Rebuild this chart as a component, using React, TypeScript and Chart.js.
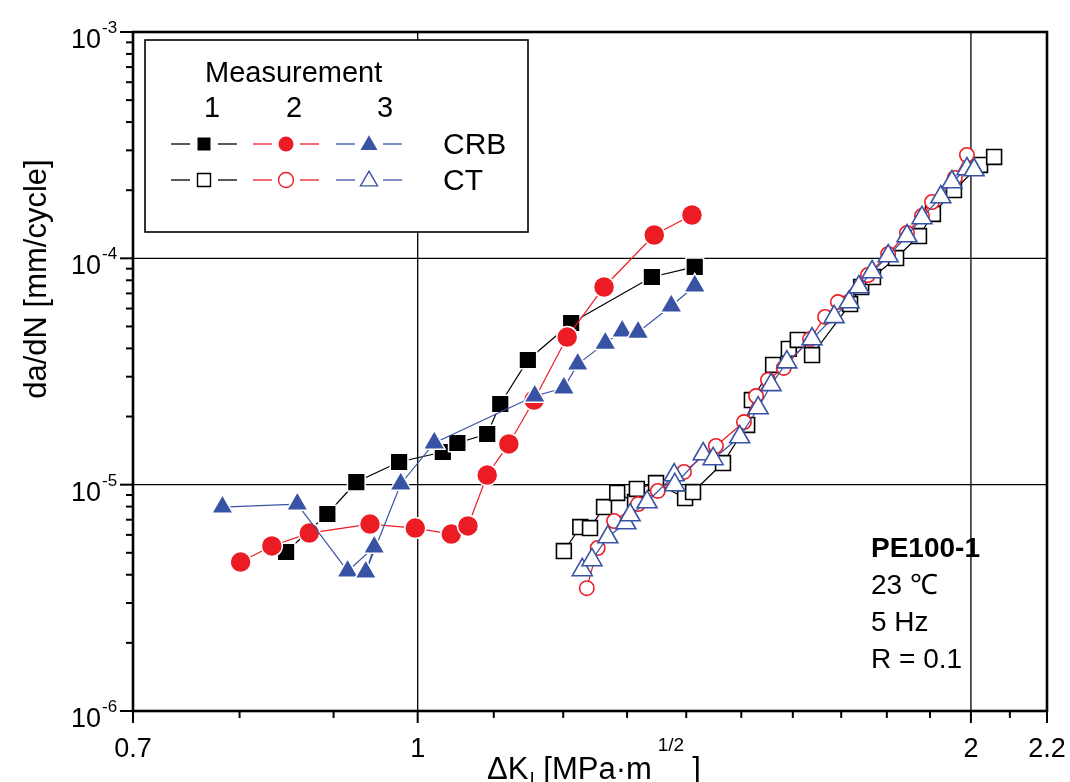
import React, { useEffect, useRef } from 'react';
import { Chart, registerables } from 'chart.js';

Chart.register(...registerables);

const FONT = '"Liberation Sans", Arial, Helvetica, sans-serif';

// ---------- axes ----------
const X_MIN = 0.7;
const X_MAX = 2.2;
const Y_MIN = 1e-6;
const Y_MAX = 1e-3;
const X_TICKS = [0.7, 0.8, 0.9, 1, 1.1, 1.2, 1.3, 1.4, 1.5, 1.6, 1.7, 1.8, 1.9, 2, 2.1, 2.2];
const X_LABELS = [0.7, 1, 2, 2.2];
const Y_EXPONENTS = [-6, -5, -4, -3];
const X_GRID = [1, 2];
const Y_GRID = [1e-5, 1e-4];

// ---------- data: CRB (filled markers) ----------
const CRB1_K = [0.848, 0.893, 0.926, 0.977, 1.032, 1.051, 1.091, 1.109, 1.148, 1.212, 1.341, 1.415];
const CRB1_RATE = [5.04e-6, 7.42e-6, 1.027e-5, 1.259e-5, 1.394e-5, 1.528e-5, 1.674e-5, 2.272e-5, 3.554e-5, 5.18e-5, 8.27e-5, 9.16e-5];

const CRB2_K = [0.801, 0.833, 0.873, 0.942, 0.997, 1.043, 1.065, 1.091, 1.121, 1.157, 1.206, 1.263, 1.345, 1.41];
const CRB2_RATE = [4.55e-6, 5.36e-6, 6.11e-6, 6.7e-6, 6.43e-6, 6.05e-6, 6.57e-6, 1.103e-5, 1.513e-5, 2.366e-5, 4.49e-5, 7.47e-5, 1.268e-4, 1.554e-4];

const CRB3_K = [0.783, 0.86, 0.916, 0.947, 0.937, 0.979, 1.021, 1.158, 1.201, 1.222, 1.265, 1.292, 1.318, 1.374, 1.415];
const CRB3_RATE = [7.96e-6, 8.21e-6, 4.15e-6, 5.3e-6, 4.11e-6, 1.007e-5, 1.528e-5, 2.464e-5, 2.674e-5, 3.41e-5, 4.22e-5, 4.77e-5, 4.72e-5, 6.16e-5, 7.55e-5];

// ---------- data: CT (open markers) ----------
const CT1_K = [1.201, 1.226, 1.241, 1.263, 1.284, 1.313, 1.316, 1.348, 1.398, 1.412, 1.466, 1.511, 1.52, 1.561, 1.592, 1.61, 1.639, 1.719, 1.743, 1.769, 1.821, 1.874, 1.907, 1.958, 2.023, 2.059];
const CT1_RATE = [5.09e-6, 6.5e-6, 6.43e-6, 7.96e-6, 9.19e-6, 8.38e-6, 9.57e-6, 1.017e-5, 8.73e-6, 9.28e-6, 1.246e-5, 1.835e-5, 2.366e-5, 3.38e-5, 3.98e-5, 4.36e-5, 3.74e-5, 6.28e-5, 7.47e-5, 8.27e-5, 1.003e-4, 1.255e-4, 1.57e-4, 2.004e-4, 2.585e-4, 2.804e-4];

const CT2_K = [1.236, 1.253, 1.279, 1.318, 1.351, 1.396, 1.453, 1.505, 1.528, 1.551, 1.582, 1.635, 1.666, 1.693, 1.758, 1.803, 1.846, 1.881, 1.905, 1.96, 1.99];
const CT2_RATE = [3.49e-6, 5.25e-6, 6.91e-6, 8.21e-6, 9.38e-6, 1.138e-5, 1.482e-5, 1.891e-5, 2.464e-5, 2.9e-5, 3.28e-5, 4.4e-5, 5.51e-5, 6.41e-5, 8.44e-5, 1.045e-4, 1.294e-4, 1.538e-4, 1.774e-4, 2.264e-4, 2.862e-4];

const CT3_K = [1.229, 1.244, 1.269, 1.298, 1.305, 1.333, 1.379, 1.38, 1.43, 1.448, 1.497, 1.532, 1.557, 1.588, 1.639, 1.685, 1.717, 1.738, 1.767, 1.803, 1.846, 1.881, 1.926, 1.953, 1.99, 2.008];
const CT3_RATE = [4.2e-6, 4.65e-6, 5.87e-6, 6.77e-6, 7.34e-6, 8.38e-6, 1.103e-5, 9.97e-6, 1.366e-5, 1.299e-5, 1.624e-5, 2.18e-5, 2.76e-5, 3.48e-5, 4.4e-5, 5.51e-5, 6.41e-5, 7.47e-5, 8.7e-5, 1.024e-4, 1.255e-4, 1.508e-4, 1.866e-4, 2.174e-4, 2.481e-4, 2.456e-4];

// ---------- text ----------
const Y_TITLE = 'da/dN [mm/cycle]';
const LEGEND_TITLE = 'Measurement';
const LEGEND_COLS = ['1', '2', '3'];
const LEGEND_ROWS = ['CRB', 'CT'];
const NOTE_TITLE = 'PE100-1';
const NOTE_LINES = ['23 \u2103', '5 Hz', 'R = 0.1'];

// ---------- styles ----------
const BLACK = '#000000';
const RED = '#ec1c24';
const BLUE = '#3953a4';
const COLORS = [BLACK, RED, BLUE];
const STYLES = ['rect', 'circle', 'triangle'];

function pts(xs: number[], ys: number[]) {
  return xs.map((x, i) => ({ x, y: ys[i] }));
}

function makeDataset(label: string, xs: number[], ys: number[], idx: number, filled: boolean) {
  const color = COLORS[idx];
  const style = STYLES[idx];
  let radius: number;
  if (filled) radius = style === 'rect' ? 12.5 : style === 'circle' ? 10.5 : 12.5;
  else radius = style === 'rect' ? 10.5 : style === 'circle' ? 7.2 : 11.5;
  return {
    label,
    data: pts(xs, ys),
    showLine: true,
    borderColor: color,
    borderWidth: 1.2,
    pointStyle: style,
    pointRadius: radius,
    pointBackgroundColor: filled ? color : '#ffffff',
    pointBorderColor: filled ? '#ffffff' : color,
    pointBorderWidth: filled ? 1.5 : 1.6,
    order: 3 - idx,
  };
}

function drawMarker(ctx: CanvasRenderingContext2D, style: string, x: number, y: number, size: number, color: string, filled: boolean) {
  ctx.save();
  ctx.beginPath();
  if (style === 'rect') {
    ctx.rect(x - size / 2, y - size / 2, size, size);
  } else if (style === 'circle') {
    ctx.arc(x, y, size / 2, 0, Math.PI * 2);
  } else {
    const r = size / 1.732;
    ctx.moveTo(x, y - r);
    ctx.lineTo(x + r * 0.866, y + r * 0.5);
    ctx.lineTo(x - r * 0.866, y + r * 0.5);
    ctx.closePath();
  }
  if (filled) {
    ctx.fillStyle = color;
    ctx.fill();
  } else {
    ctx.fillStyle = '#ffffff';
    ctx.fill();
    ctx.strokeStyle = color;
    ctx.lineWidth = 1.4;
    ctx.stroke();
  }
  ctx.restore();
}

function seg(ctx: CanvasRenderingContext2D, x1: number, y1: number, x2: number, y2: number) {
  ctx.beginPath();
  ctx.moveTo(x1, y1);
  ctx.lineTo(x2, y2);
  ctx.stroke();
}

const decorPlugin = {
  id: 'decor',
  beforeDatasetsDraw(chart: any) {
    const { ctx, chartArea: a, scales } = chart;
    const xs = scales.x;
    const ys = scales.y;
    ctx.save();
    ctx.strokeStyle = '#000';
    ctx.lineWidth = 1.3;
    for (const v of X_GRID) {
      const px = xs.getPixelForValue(v);
      seg(ctx, px, a.top, px, a.bottom);
    }
    for (const v of Y_GRID) {
      const py = ys.getPixelForValue(v);
      seg(ctx, a.left, py, a.right, py);
    }
    ctx.restore();
  },
  afterDatasetsDraw(chart: any) {
    const { ctx, chartArea: a, scales } = chart;
    const xs = scales.x;
    const ys = scales.y;
    ctx.save();
    ctx.strokeStyle = '#000';
    ctx.fillStyle = '#000';

    // frame
    ctx.lineWidth = 2.6;
    ctx.strokeRect(a.left, a.top, a.right - a.left, a.bottom - a.top);

    // x ticks
    ctx.lineWidth = 2;
    for (const v of X_TICKS) {
      const px = xs.getPixelForValue(v);
      const len = X_LABELS.includes(v) ? 12 : 7;
      seg(ctx, px, a.bottom, px, a.bottom + len);
    }
    // y ticks
    for (let e = -6; e <= -3; e++) {
      for (let m = 1; m <= 9; m++) {
        const v = m * Math.pow(10, e);
        if (v > Y_MAX * 1.0001) break;
        const py = ys.getPixelForValue(v);
        const len = m === 1 ? 13 : 7;
        seg(ctx, a.left - len, py, a.left, py);
      }
    }

    // x tick labels
    ctx.font = `27px ${FONT}`;
    ctx.textAlign = 'center';
    ctx.textBaseline = 'alphabetic';
    for (const v of X_LABELS) {
      ctx.fillText(String(v), xs.getPixelForValue(v), a.bottom + 46);
    }

    // y tick labels 10^n
    for (const e of Y_EXPONENTS) {
      const py = ys.getPixelForValue(Math.pow(10, e));
      ctx.font = `27px ${FONT}`;
      ctx.textAlign = 'right';
      ctx.fillText('10', 101, py + 16);
      ctx.font = `17px ${FONT}`;
      ctx.textAlign = 'left';
      ctx.fillText(String(e), 102, py + 1);
    }

    // x title: ΔK_I [MPa·m^1/2]
    {
      let x0 = 487;
      const base = a.bottom + 68;
      ctx.textAlign = 'left';
      ctx.font = `31px ${FONT}`;
      ctx.fillText('\u0394K', x0, base);
      x0 += ctx.measureText('\u0394K').width + 1;
      ctx.font = `19px ${FONT}`;
      ctx.fillText('I', x0, base + 6);
      x0 += ctx.measureText('I').width;
      ctx.font = `31px ${FONT}`;
      ctx.fillText(' [MPa\u00b7m', x0, base);
      x0 += ctx.measureText(' [MPa\u00b7m').width + 6;
      ctx.font = `19px ${FONT}`;
      ctx.fillText('1/2', x0, base - 28);
      x0 += ctx.measureText('1/2').width + 8;
      ctx.font = `31px ${FONT}`;
      ctx.fillText(']', x0, base);
    }

    // y title
    ctx.save();
    ctx.translate(46, 279);
    ctx.rotate(-Math.PI / 2);
    ctx.font = `31px ${FONT}`;
    ctx.textAlign = 'center';
    ctx.fillText(Y_TITLE, 0, 0);
    ctx.restore();

    // legend box
    ctx.fillStyle = '#fff';
    ctx.fillRect(145, 40, 383, 192);
    ctx.lineWidth = 1.6;
    ctx.strokeStyle = '#000';
    ctx.strokeRect(145, 40, 383, 192);
    ctx.fillStyle = '#000';
    ctx.font = `29px ${FONT}`;
    ctx.textAlign = 'left';
    ctx.fillText(LEGEND_TITLE, 205, 82);
    const colX = [204, 286, 369];
    const numX = [212, 294, 385];
    ctx.textAlign = 'center';
    LEGEND_COLS.forEach((t, i) => ctx.fillText(t, numX[i], 117));
    const rowY = [144, 180];
    const mSize: Record<string, number> = { rect: 13, circle: 15, triangle: 17 };
    LEGEND_ROWS.forEach((row, r) => {
      const y = rowY[r];
      const filled = r === 0;
      for (let i = 0; i < 3; i++) {
        const cx = colX[i];
        ctx.strokeStyle = COLORS[i];
        ctx.lineWidth = 1.3;
        seg(ctx, cx - 33, y, cx - 14, y);
        seg(ctx, cx + 14, y, cx + 33, y);
        drawMarker(ctx, STYLES[i], cx, y + (STYLES[i] === 'triangle' ? 1 : 0), mSize[STYLES[i]], COLORS[i], filled);
      }
      ctx.fillStyle = '#000';
      ctx.textAlign = 'left';
      ctx.font = `30px ${FONT}`;
      ctx.fillText(row, 443, y + 10);
    });

    // annotation
    ctx.textAlign = 'left';
    ctx.font = `bold 28px ${FONT}`;
    ctx.fillText(NOTE_TITLE, 871, 557);
    ctx.font = `28px ${FONT}`;
    NOTE_LINES.forEach((t, i) => ctx.fillText(t, 871, 594 + i * 37));

    ctx.restore();
  },
};

export default function App() {
  const ref = useRef<HTMLCanvasElement | null>(null);
  useEffect(() => {
    if (!ref.current) return;
    const chart = new Chart(ref.current, {
      type: 'scatter',
      data: {
        datasets: [
          makeDataset('CRB 1', CRB1_K, CRB1_RATE, 0, true),
          makeDataset('CRB 2', CRB2_K, CRB2_RATE, 1, true),
          makeDataset('CRB 3', CRB3_K, CRB3_RATE, 2, true),
          makeDataset('CT 1', CT1_K, CT1_RATE, 0, false),
          makeDataset('CT 2', CT2_K, CT2_RATE, 1, false),
          makeDataset('CT 3', CT3_K, CT3_RATE, 2, false),
        ] as any,
      },
      options: {
        animation: false,
        responsive: false,
        devicePixelRatio: 1,
        events: [],
        layout: { padding: { left: 133, top: 32, right: 23, bottom: 71 } },
        scales: {
          x: { type: 'logarithmic', min: X_MIN, max: X_MAX, display: false },
          y: { type: 'logarithmic', min: Y_MIN, max: Y_MAX, display: false },
        },
        plugins: { legend: { display: false }, tooltip: { enabled: false } },
      },
      plugins: [decorPlugin],
    });
    return () => chart.destroy();
  }, []);
  return (
    <div style={{ position: 'absolute', left: 0, top: 0, width: 1070, height: 782, background: '#fff' }}>
      <canvas ref={ref} width={1070} height={782} style={{ width: 1070, height: 782, display: 'block' }} />
    </div>
  );
}
